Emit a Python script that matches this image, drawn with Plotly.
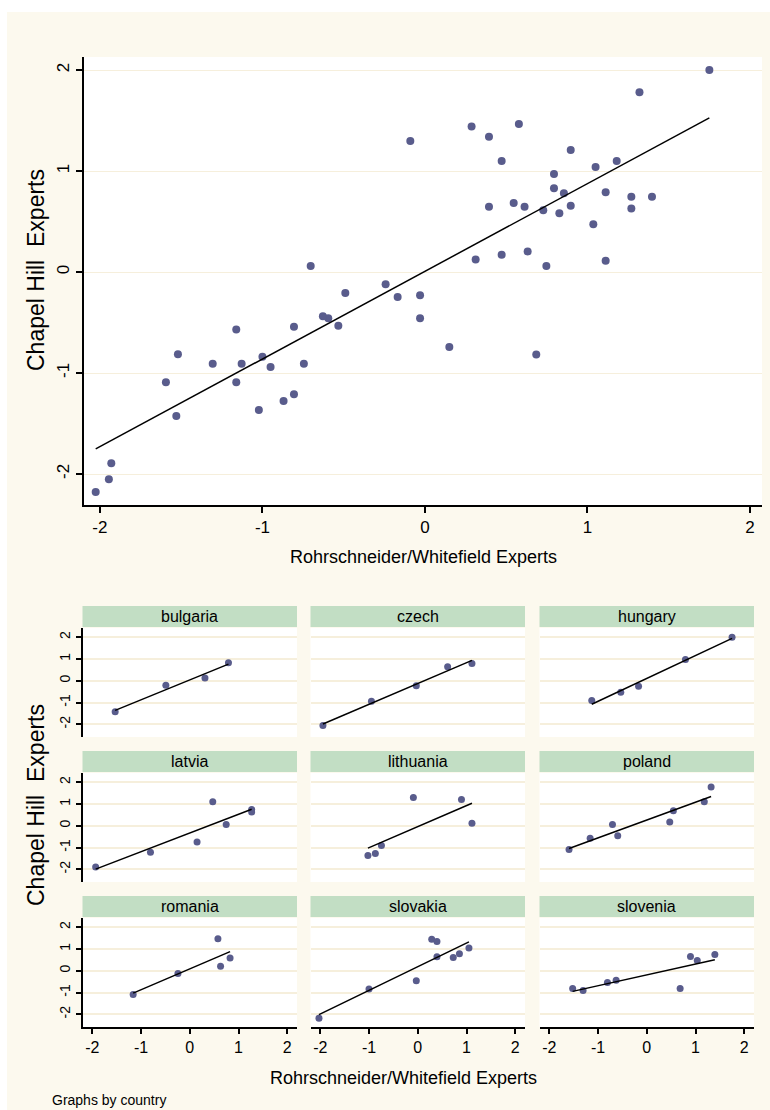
import numpy as np
import plotly.graph_objects as go

# ---------------- data (Rohrschneider/Whitefield x, Chapel Hill y) ----------------
countries = ["bulgaria", "czech", "hungary", "latvia", "lithuania",
             "poland", "romania", "slovakia", "slovenia"]

bulgaria_x = [-1.53, -0.49, 0.312, 0.794]
bulgaria_y = [-1.426, -0.208, 0.125, 0.83]
czech_x = [-1.945, -0.95, -0.03, 0.613, 1.112]
czech_y = [-2.053, -0.94, -0.231, 0.647, 0.789]
hungary_x = [-1.128, -0.533, -0.168, 0.794, 1.75]
hungary_y = [-0.908, -0.531, -0.248, 0.97, 2.0]
latvia_x = [-1.93, -0.806, 0.15, 0.472, 0.747, 1.27, 1.27]
latvia_y = [-1.894, -1.211, -0.743, 1.099, 0.059, 0.746, 0.63]
lithuania_x = [-1.022, -0.87, -0.745, -0.09, 0.897, 1.112]
lithuania_y = [-1.366, -1.277, -0.908, 1.297, 1.208, 0.112]
poland_x = [-1.594, -1.161, -0.703, -0.595, 0.472, 0.546, 1.18, 1.32]
poland_y = [-1.092, -0.568, 0.059, -0.459, 0.171, 0.683, 1.099, 1.78]
romania_x = [-1.161, -0.242, 0.578, 0.632, 0.827]
romania_y = [-1.092, -0.122, 1.465, 0.204, 0.581]
slovakia_x = [-2.026, -1.0, -0.03, 0.287, 0.394, 0.394, 0.728, 0.855, 1.05]
slovakia_y = [-2.178, -0.838, -0.459, 1.44, 1.34, 0.647, 0.611, 0.779, 1.04]
slovenia_x = [-1.52, -1.306, -0.806, -0.628, 0.685, 0.897, 1.036, 1.397]
slovenia_y = [-0.815, -0.908, -0.541, -0.439, -0.818, 0.657, 0.472, 0.746]

tick_vals = [-2, -1, 0, 1, 2]
tick_text = ["-2", "-1", "0", "1", "2"]

x_title = "Rohrschneider/Whitefield Experts"
y_title = "Chapel Hill  Experts"
note_text = "Graphs by country"

data_x = {"bulgaria": bulgaria_x, "czech": czech_x, "hungary": hungary_x,
          "latvia": latvia_x, "lithuania": lithuania_x, "poland": poland_x,
          "romania": romania_x, "slovakia": slovakia_x, "slovenia": slovenia_x}
data_y = {"bulgaria": bulgaria_y, "czech": czech_y, "hungary": hungary_y,
          "latvia": latvia_y, "lithuania": lithuania_y, "poland": poland_y,
          "romania": romania_y, "slovakia": slovakia_y, "slovenia": slovenia_y}

# ---------------- style ----------------
W, H = 770, 1110
CREAM = "#FCF9EE"
GRID = "#F6EFDC"
MARK = "#595C8C"
STRIP = "#C2DEC4"
FONT = "Liberation Sans, Arial, sans-serif"


def px(x):
    return x / W


def py(y):
    return 1 - y / H


fig = go.Figure()

# ---------------- top scatter ----------------
all_x = np.concatenate([np.array(data_x[c]) for c in countries])
all_y = np.concatenate([np.array(data_y[c]) for c in countries])
fig.add_trace(go.Scatter(x=all_x, y=all_y, mode="markers",
                         marker=dict(color=MARK, size=8),
                         xaxis="x", yaxis="y", showlegend=False))
b, a = np.polyfit(all_x, all_y, 1)
xl = np.array([all_x.min(), all_x.max()])
fig.add_trace(go.Scatter(x=xl, y=a + b * xl, mode="lines",
                         line=dict(color="black", width=1.5),
                         xaxis="x", yaxis="y", showlegend=False))

layout = dict(
    width=W, height=H,
    margin=dict(l=0, r=0, t=0, b=0),
    paper_bgcolor=CREAM, plot_bgcolor="white",
    font=dict(family=FONT, color="black"),
    showlegend=False,
)

layout["xaxis"] = dict(domain=[px(84), px(762)], range=[-2.098, 2.074], anchor="y",
                       tickvals=tick_vals, ticktext=tick_text,
                       showline=True, linecolor="black", linewidth=1.5,
                       ticks="outside", ticklen=6, tickwidth=1.5, tickcolor="black",
                       showgrid=False, zeroline=False,
                       tickfont=dict(size=17, family=FONT))
layout["yaxis"] = dict(domain=[py(505), py(57)], range=[-2.307, 2.129], anchor="x",
                       tickvals=tick_vals, ticktext=tick_text, tickangle=-90,
                       showline=True, linecolor="black", linewidth=1.5,
                       ticks="outside", ticklen=6, tickwidth=1.5, tickcolor="black",
                       showgrid=True, gridcolor=GRID, gridwidth=1, zeroline=False,
                       tickfont=dict(size=17, family=FONT))

# ---------------- small multiples ----------------
cols = [(82.5, 297), (310.5, 525), (539.5, 754)]
rows = [(628, 737), (773, 882), (918, 1027)]
strips = [(606, 627), (751, 772), (896, 917)]

shapes = []
annotations = []

for i, c in enumerate(countries):
    r, k = divmod(i, 3)
    n = i + 2
    xa, ya = f"x{n}", f"y{n}"
    cx = np.array(data_x[c])
    cy = np.array(data_y[c])
    fig.add_trace(go.Scatter(x=cx, y=cy, mode="markers",
                             marker=dict(color=MARK, size=7),
                             xaxis=xa, yaxis=ya, showlegend=False))
    bb, aa = np.polyfit(cx, cy, 1)
    xx = np.array([cx.min(), cx.max()])
    fig.add_trace(go.Scatter(x=xx, y=aa + bb * xx, mode="lines",
                             line=dict(color="black", width=1.5),
                             xaxis=xa, yaxis=ya, showlegend=False))
    bottom = (r == 2)
    left = (k == 0)
    layout[f"xaxis{n}"] = dict(domain=[px(cols[k][0]), px(cols[k][1])], range=[-2.2, 2.2],
                               anchor=ya, tickvals=tick_vals, ticktext=tick_text,
                               showticklabels=bottom, showline=bottom,
                               linecolor="black", linewidth=1.5,
                               ticks="outside" if bottom else "", ticklen=5, tickwidth=1.5,
                               tickcolor="black", showgrid=False, zeroline=False,
                               tickfont=dict(size=16, family=FONT))
    layout[f"yaxis{n}"] = dict(domain=[py(rows[r][1]), py(rows[r][0])], range=[-2.58, 2.42],
                               anchor=xa, tickvals=tick_vals, ticktext=tick_text,
                               tickangle=-90, showticklabels=left, showline=left,
                               linecolor="black", linewidth=1.5,
                               ticks="outside" if left else "", ticklen=5, tickwidth=1.5,
                               tickcolor="black", showgrid=True, gridcolor=GRID, gridwidth=1.5,
                               zeroline=False, tickfont=dict(size=14, family=FONT))
    # strip header
    shapes.append(dict(type="rect", xref="paper", yref="paper",
                       x0=px(cols[k][0]), x1=px(cols[k][1]),
                       y0=py(strips[r][1]), y1=py(strips[r][0]),
                       fillcolor=STRIP, line=dict(width=0), layer="above"))
    annotations.append(dict(text=c, xref="paper", yref="paper",
                            x=px((cols[k][0] + cols[k][1]) / 2),
                            y=py((strips[r][0] + strips[r][1]) / 2),
                            xanchor="center", yanchor="middle", showarrow=False,
                            font=dict(size=16, family=FONT)))

# white margins outside the cream graph region
shapes.append(dict(type="rect", xref="paper", yref="paper", x0=0, x1=px(7), y0=0, y1=1,
                   fillcolor="white", line=dict(width=0), layer="above"))
shapes.append(dict(type="rect", xref="paper", yref="paper", x0=0, x1=1, y0=py(12), y1=1,
                   fillcolor="white", line=dict(width=0), layer="above"))

# titles
annotations += [
    dict(text=y_title, xref="paper", yref="paper", x=px(36), y=py(270), textangle=-90,
         xanchor="center", yanchor="middle", showarrow=False, font=dict(size=23, family=FONT)),
    dict(text=x_title, xref="paper", yref="paper", x=px(423), y=py(557),
         xanchor="center", yanchor="middle", showarrow=False, font=dict(size=18, family=FONT)),
    dict(text=y_title, xref="paper", yref="paper", x=px(36), y=py(805), textangle=-90,
         xanchor="center", yanchor="middle", showarrow=False, font=dict(size=23, family=FONT)),
    dict(text=x_title, xref="paper", yref="paper", x=px(404), y=py(1078),
         xanchor="center", yanchor="middle", showarrow=False, font=dict(size=18, family=FONT)),
    dict(text=note_text, xref="paper", yref="paper", x=px(50), y=py(1100),
         xanchor="left", yanchor="middle", showarrow=False, font=dict(size=14, family=FONT)),
]

layout["shapes"] = shapes
layout["annotations"] = annotations
fig.update_layout(**layout)
fig.write_html("out.html",
               config={"displayModeBar": False},
               post_script="document.body.style.margin='0';"
                           "document.body.style.overflow='hidden';")
